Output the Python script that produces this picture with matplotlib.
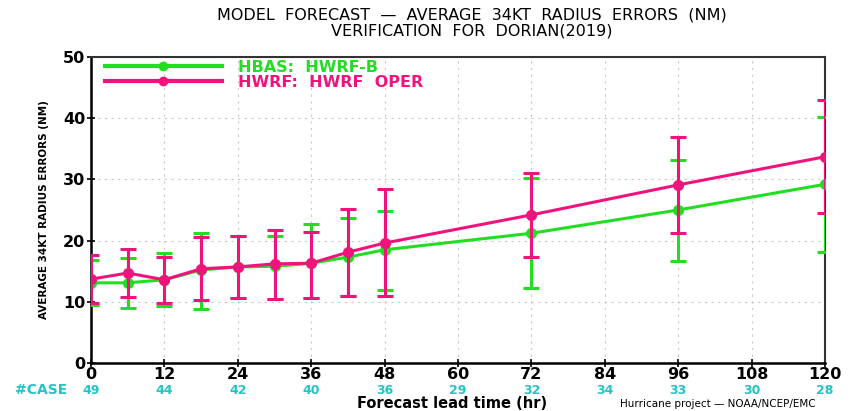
import matplotlib.pyplot as plt
import matplotlib.transforms as mtransforms
from matplotlib.lines import Line2D

# lead times (hr)
lead = [0, 6, 12, 18, 24, 30, 36, 42, 48, 72, 96, 120]

# HBAS: HWRF-B
hbas_mean = [13.1, 13.1, 13.6, 15.2, 15.7, 15.8, 16.3, 17.3, 18.5, 21.2, 25.0, 29.2]
hbas_lo = [9.5, 9.0, 9.3, 8.8, 10.6, 10.4, 10.6, 11.0, 11.9, 12.3, 16.6, 18.2]
hbas_hi = [16.8, 17.2, 18.0, 21.2, 20.8, 20.8, 22.7, 23.7, 24.9, 30.2, 33.1, 40.2]

# HWRF: HWRF OPER
hwrf_mean = [13.7, 14.7, 13.6, 15.4, 15.7, 16.2, 16.3, 18.1, 19.6, 24.2, 29.1, 33.7]
hwrf_lo = [9.8, 10.8, 9.8, 10.3, 10.6, 10.4, 10.6, 11.0, 10.9, 17.4, 21.2, 24.5]
hwrf_hi = [17.6, 18.6, 17.3, 20.6, 20.8, 21.7, 21.4, 25.2, 28.5, 31.1, 37.0, 43.0]

# number of cases
case_hours = [0, 12, 24, 36, 48, 60, 72, 84, 96, 108, 120]
case_counts = [49, 44, 42, 40, 36, 29, 32, 34, 33, 30, 28]

green = '#22dd22'
pink = '#f0137c'
cyan = '#22c4c8'

fig = plt.figure(figsize=(8.6, 4.11), dpi=100)
ax = fig.add_axes([91 / 860, 1 - 363 / 411, (825 - 91) / 860, (363 - 57) / 411])


def draw_series(mean, lo, hi, color, z):
    yerr = [[m - l for m, l in zip(mean, lo)], [h - m for m, h in zip(mean, hi)]]
    ax.errorbar(lead, mean, yerr=yerr, color=color, lw=2.2, elinewidth=2.2,
                capsize=6, capthick=2.2, marker='o', ms=7, zorder=z)


draw_series(hbas_mean, hbas_lo, hbas_hi, green, 3)
draw_series(hwrf_mean, hwrf_lo, hwrf_hi, pink, 4)

ax.set_xlim(0, 120)
ax.set_ylim(0, 50)
ax.set_xticks(range(0, 121, 12))
ax.set_yticks(range(0, 51, 10))
ax.grid(True, color='#c8c8c8', ls=(0, (2, 4)), lw=0.8)
ax.tick_params(direction='inout', length=6, width=1.2, labelsize=11.5, pad=1)
ax.tick_params(axis='x', pad=0)
for lab in ax.get_xticklabels() + ax.get_yticklabels():
    lab.set_fontweight('bold')
for side in ['left', 'bottom']:
    ax.spines[side].set_linewidth(1.8)
for side in ['top', 'right']:
    ax.spines[side].set_linewidth(1.5)
    ax.spines[side].set_color('#333333')

handles = [Line2D([], [], color=green, lw=3, marker='o', ms=6),
           Line2D([], [], color=pink, lw=3, marker='o', ms=6)]
ax.legend(handles, ['HBAS:  HWRF-B', 'HWRF:  HWRF  OPER'], loc='upper left',
          bbox_to_anchor=(105 / 860, 1 - 60 / 411), bbox_transform=fig.transFigure,
          frameon=False, handlelength=7.3, borderaxespad=0, borderpad=0,
          labelspacing=0.0, handletextpad=1.0, labelcolor='linecolor',
          prop={'weight': 'bold', 'size': 11.5})

ax.set_ylabel('AVERAGE 34KT RADIUS ERRORS (NM)', fontsize=7.5, fontweight='bold',
              labelpad=10)

# case counts under the axis
trans = mtransforms.blended_transform_factory(ax.transData, ax.transAxes)
for h, n in zip(case_hours, case_counts):
    ax.text(h, -0.089, str(n), transform=trans, ha='center', va='center',
            color=cyan, fontsize=9, fontweight='bold')
fig.text(15 / 860, 1 - 390 / 411, '#CASE', color=cyan, fontsize=10,
         fontweight='bold', va='center', ha='left')

fig.text(452 / 860, 1 - 403 / 411, 'Forecast lead time (hr)', fontsize=10.5,
         fontweight='bold', ha='center', va='center')
fig.text(620 / 860, 1 - 404 / 411, 'Hurricane project \u2014 NOAA/NCEP/EMC',
         fontsize=7.5, ha='left', va='center')

fig.text(472 / 860, 1 - 15 / 411,
         'MODEL  FORECAST  \u2014  AVERAGE  34KT  RADIUS  ERRORS  (NM)',
         fontsize=11.5, ha='center', va='center')
fig.text(472 / 860, 1 - 31 / 411, 'VERIFICATION  FOR  DORIAN(2019)',
         fontsize=11.5, ha='center', va='center')

fig.savefig('out.png', dpi=100)
